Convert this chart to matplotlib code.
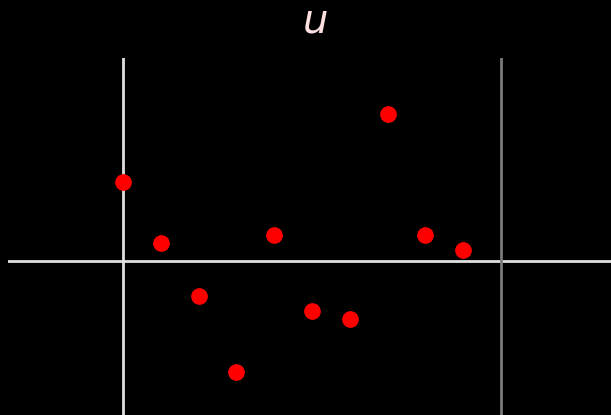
import matplotlib
matplotlib.use('Agg')
import matplotlib.pyplot as plt
import numpy as np

# valores
xs = [0, 1, 2, 3, 4, 5, 6, 7, 8, 9]
us = [2.1, 0.48, -0.93, -2.94, 0.69, -1.32, -1.53, 3.89, 0.69, 0.29]
x_end = 10

fig = plt.figure(figsize=(6.11, 4.15), dpi=100)
fig.patch.set_facecolor('black')
ax = fig.add_axes([8 / 611, 0, 603 / 611, 357 / 415])
ax.set_facecolor('black')

ax.axhline(0, color='#e0e0e0', lw=2, zorder=1)
ax.axvline(0, color='#e0e0e0', lw=2, zorder=1)
ax.axvline(x_end, color='#7a7a7a', lw=2, zorder=1)
ax.plot(xs, us, 'o', color='red', ms=11, zorder=3)

ax.set_xlim(-3.04, 12.91)
ax.set_ylim(-4.07, 5.37)
ax.axis('off')

fig.text(0.515, 0.947, '$u$', color='#ffe0e0', fontsize=29, ha='center', va='center')

fig.savefig('out.png', dpi=100, facecolor='black')
